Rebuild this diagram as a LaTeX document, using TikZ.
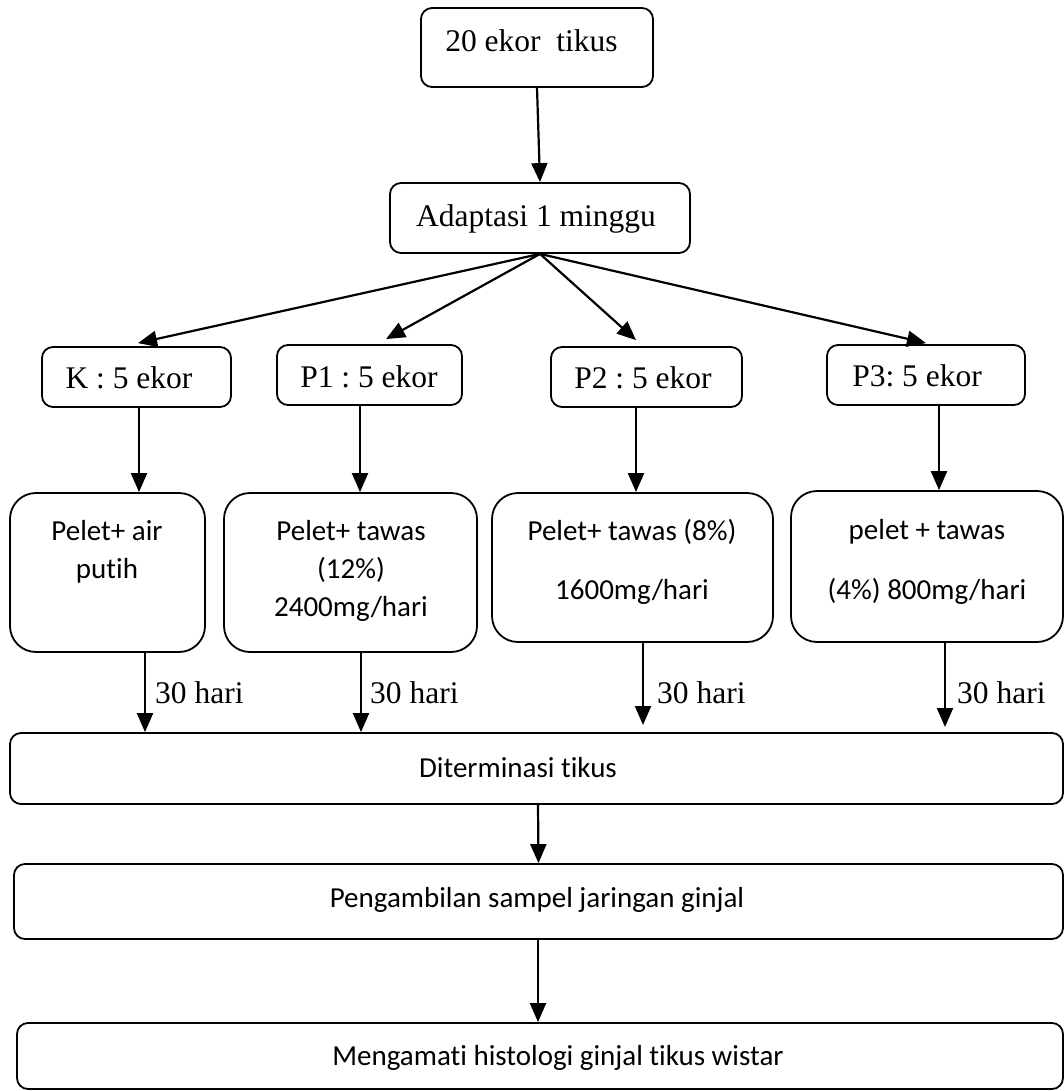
\documentclass[tikz,border=0pt]{standalone}
\usepackage{fontspec}
\setmainfont{Liberation Serif}
\newfontfamily\calfont[Ligatures=NoCommon]{Carlito}
\usetikzlibrary{arrows.meta}
\begin{document}
\frenchspacing
\begin{tikzpicture}[x=1pt,y=-1pt,
  box/.style={draw, line width=1.8pt, rounded corners=11pt, inner sep=0pt},
  tbox/.style={box, rounded corners=26pt},
  arr/.style={line width=2.2pt, -{Triangle[length=19pt,width=16pt]}},
  tms/.style={font=\fontsize{31.5}{37}\selectfont\frenchspacing, inner sep=0pt, anchor=base},
  cal/.style={font=\calfont\fontsize{29}{37}\selectfont\frenchspacing, inner sep=0pt, anchor=base}]
\useasboundingbox (0,0) rectangle (1064,1091);
% boxes
\node[box, minimum width=232pt, minimum height=79pt] (top) at (537,47.5) {};
\node[box, minimum width=300pt, minimum height=70pt] (adapt) at (540,218) {};
\node[box, minimum width=189pt, minimum height=60pt] (k) at (136.5,377) {};
\node[box, minimum width=185pt, minimum height=60pt] (p1) at (369.5,375) {};
\node[box, minimum width=191pt, minimum height=60pt] (p2) at (646.5,377) {};
\node[box, minimum width=198pt, minimum height=60pt] (p3) at (926,375) {};
\node[tbox, minimum width=195pt, minimum height=159pt] (t1) at (107.5,572.5) {};
\node[tbox, minimum width=253pt, minimum height=159pt] (t2) at (350.5,572.5) {};
\node[tbox, minimum width=281pt, minimum height=149pt] (t3) at (632.5,567.5) {};
\node[tbox, minimum width=272pt, minimum height=151pt] (t4) at (927,566.5) {};
\node[box, minimum width=1053pt, minimum height=71pt] (det) at (536.5,768.5) {};
\node[box, minimum width=1049pt, minimum height=75pt] (samp) at (538.5,901.5) {};
\node[box, minimum width=1046pt, minimum height=66pt] (obs) at (540,1056) {};
% texts
\node[tms] (toptxt) at (531.5,52) {20 ekor~ tikus};
\node[tms] (adtxt) at (536,227) {Adaptasi 1 minggu};
\node[tms] (ktxt) at (129,388) {K : 5 ekor};
\node[tms] (p1txt) at (369,387) {P1 : 5 ekor};
\node[tms] (p2txt) at (643,388) {P2 : 5 ekor};
\node[tms] (p3txt) at (917,386) {P3: 5 ekor};
\node[cal] (t1a) at (107,540) {Pelet+ air};
\node[cal] (t1b) at (107,578) {putih};
\node[cal] (t2a) at (351,540) {Pelet+ tawas};
\node[cal] (t2b) at (351,578) {(12\%)};
\node[cal] (t2c) at (351,616) {2400mg/hari};
\node[cal] (t3a) at (632,540) {Pelet+ tawas (8\%)};
\node[cal] (t3b) at (632,599) {1600mg/hari};
\node[cal] (t4a) at (927,539) {pelet + tawas};
\node[cal] (t4b) at (927,599) {(4\%) 800mg/hari};
\node[cal] (dettxt) at (518,777) {Diterminasi tikus};
\node[cal] (samptxt) at (537,907) {Pengambilan sampel jaringan ginjal};
\node[cal] (obstxt) at (558,1065) {Mengamati histologi ginjal tikus wistar};
\node[tms, anchor=base west] (l1) at (155,703) {30 hari};
\node[tms, anchor=base west] (l2) at (370,703) {30 hari};
\node[tms, anchor=base west] (l3) at (657,703) {30 hari};
\node[tms, anchor=base west] (l4) at (957,703) {30 hari};
% free ends
\coordinate (e3) at (643,725);
\coordinate (e4) at (945,727);
% connectors
\draw[arr] (top.south) -- (adapt.north);
\draw[arr] (adapt.south) -- ([xshift=1.5pt,yshift=3pt]k.north);
\draw[arr] (adapt.south) -- ([xshift=16.5pt,yshift=5pt]p1.north);
\draw[arr] (adapt.south) -- ([xshift=-10.5pt,yshift=6pt]p2.north);
\draw[arr] (adapt.south) -- ([yshift=1pt]p3.north);
\draw[arr] ([xshift=2.5pt]k.south) -- ([xshift=31.5pt]t1.north);
\draw[arr] ([xshift=-9.5pt]p1.south) -- ([xshift=9.5pt]t2.north);
\draw[arr] ([xshift=-10.5pt]p2.south) -- ([xshift=3.5pt]t3.north);
\draw[arr] ([xshift=13pt]p3.south) -- ([xshift=12pt]t4.north);
\draw[arr] ([xshift=37.5pt]t1.south) -- ([xshift=-391.5pt]det.north);
\draw[arr] ([xshift=10.5pt]t2.south) -- ([xshift=-175.5pt]det.north);
\draw[arr] ([xshift=10.5pt]t3.south) -- (e3);
\draw[arr] ([xshift=18pt]t4.south) -- (e4);
\draw[arr] ([xshift=1.5pt]det.south) -- (samp.north);
\draw[arr] ([xshift=-0.5pt]samp.south) -- ([xshift=-2pt]obs.north);
\end{tikzpicture}
\end{document}
